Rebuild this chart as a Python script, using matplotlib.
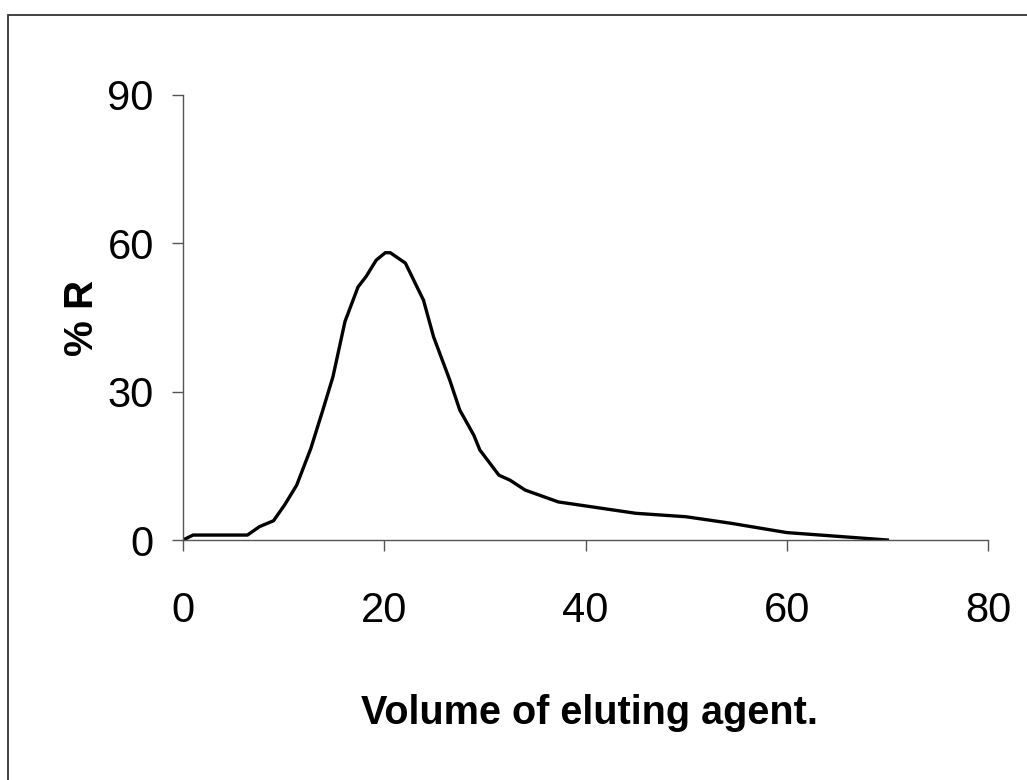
import matplotlib
matplotlib.use("Agg")
import matplotlib.pyplot as plt
from matplotlib.patches import Rectangle

# elution profile
volume = [0, 1, 6.4, 7.6, 9, 10.1, 11.3, 12.7, 13.9, 14.9, 16.1, 17.4, 18.2,
          19.2, 20.1, 20.6, 22.1, 23.9, 24.9, 26.5, 27.5, 28.9, 29.5, 31.4,
          32.5, 34, 37.3, 45, 50, 54.4, 60, 70]
recovery = [0, 1, 1, 2.7, 3.9, 7.1, 11.1, 18.5, 26.3, 33, 44.2, 51.2, 53.3,
            56.6, 58.1, 58.1, 56, 48.5, 41.1, 32.4, 26.3, 21.2, 18.2, 13.1,
            12.1, 10.1, 7.7, 5.4, 4.7, 3.4, 1.5, 0]
xticks = [0, 20, 40, 60, 80]
yticks = [0, 30, 60, 90]

plt.rcParams['font.family'] = ['Liberation Sans', 'DejaVu Sans']

W, H = 1027, 780
fig = plt.figure(figsize=(W / 100, H / 100), dpi=100)
ax = fig.add_axes([183 / W, 1 - 540 / H, (988 - 183) / W, (540 - 95) / H])

ax.plot(volume, recovery, color='black', lw=2.4, solid_joinstyle='round')

ax.set_xlim(0, 80)
ax.set_ylim(0, 90)
ax.set_xticks(xticks)
ax.set_yticks(yticks)
for s in ['top', 'right']:
    ax.spines[s].set_visible(False)
for s in ['left', 'bottom']:
    ax.spines[s].set_color('#555555')
    ax.spines[s].set_linewidth(1.0)
ax.tick_params(direction='out', length=8, width=1.0, color='#555555',
               labelsize=30)
ax.tick_params(axis='x', pad=29)
ax.tick_params(axis='y', pad=13)

ax.set_xlabel('Volume of eluting agent.', fontsize=28.5, fontweight='bold')
ax.set_ylabel('% R', fontsize=29, fontweight='bold')
ax.xaxis.set_label_coords(0.505, -0.345)
ax.yaxis.set_label_coords(-0.102, 0.5)

# outer frame of the original figure, cut off at right and bottom
fig.patches.append(Rectangle((8 / W, -0.1), 1.2, 1 - 15 / H + 0.1,
                             transform=fig.transFigure, fill=False,
                             edgecolor='#333333', lw=1.3))

fig.savefig('out.png', dpi=100)
